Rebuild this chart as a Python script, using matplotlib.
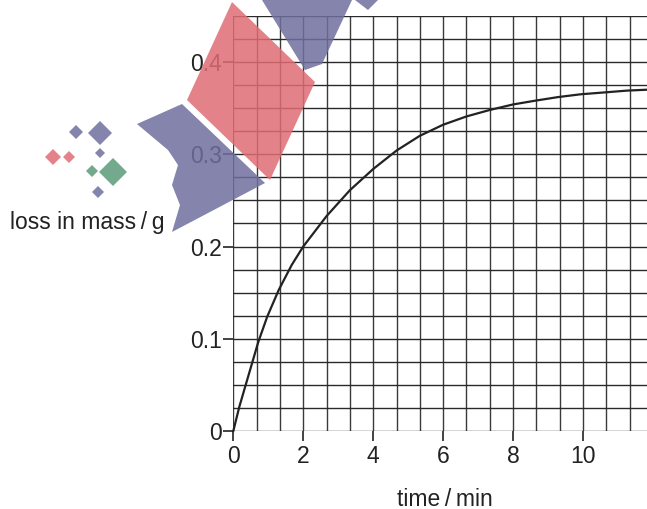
import numpy as np
import matplotlib
matplotlib.use("Agg")
import matplotlib.pyplot as plt
from matplotlib.patches import Polygon
from matplotlib.transforms import Affine2D

plt.rcParams['font.family'] = ['Liberation Sans', 'DejaVu Sans']

# values
time_min = [0, 0.17, 0.37, 0.54, 0.71, 0.97, 1.30, 1.67, 2.0, 2.667, 3.333, 4.0, 4.667,
            5.333, 6.0, 6.667, 7.333, 8.0, 8.62, 9.29, 9.93, 10.6, 11.26, 11.85]
loss_g = [0, 0.026, 0.052, 0.074, 0.096, 0.124, 0.153, 0.180, 0.200, 0.233, 0.261, 0.284,
          0.304, 0.320, 0.332, 0.341, 0.348, 0.354, 0.358, 0.362, 0.365, 0.367, 0.369, 0.370]
x_ticks = [0, 2, 4, 6, 8, 10]
y_ticks = [0, 0.1, 0.2, 0.3, 0.4]
y_tick_labels = ["0", "0.1", "0.2", "0.3", "0.4"]

W, H = 647, 509
fig = plt.figure(figsize=(W / 100, H / 100), dpi=100)
ax = fig.add_axes([0.3606, 0.1532, 0.6394, 0.8156])
ax.set_xlim(0, 11.83)
ax.set_ylim(0, 0.45)

# graph paper grid
for gx in np.arange(0, 12, 2 / 3):
    ax.axvline(gx, color='#3a3a3a', lw=1.0, zorder=1)
for gy in np.arange(0, 0.451, 0.025):
    ax.axhline(gy, color='#2a2a2a', lw=1.0, zorder=1)
for s in ax.spines.values():
    s.set_visible(False)

ax.plot(time_min, loss_g, color='#222222', lw=1.6, zorder=3, clip_on=False,
        solid_joinstyle='round')

ax.set_xticks(x_ticks)
ax.set_yticks(y_ticks)
ax.set_yticklabels(y_tick_labels)
ax.tick_params(axis='both', direction='out', length=7, width=1.2, color='#222222',
               labelsize=16.5, labelcolor='#222222')
ax.tick_params(axis='x', pad=3)
ax.tick_params(axis='y', pad=1)

fig.text(10 / W, 1 - 222 / H, "loss in mass\u2009/\u2009g", fontsize=16.5, color='#222222',
         ha='left', va='center')
fig.text(445 / W, 1 - 499 / H, "time\u2009/\u2009min", fontsize=16.5, color='#222222',
         ha='center', va='center')

# watermark logo (rough), in pixel coords with origin top-left
px = Affine2D().scale(1 / W, -1 / H).translate(0, 1) + fig.transFigure
red = '#e06c75'
blue = '#6e6e9e'
green = '#5a9a78'
shapes = [
    ([(232, 2), (315, 82), (270, 180), (187, 100)], red),
    ([(137, 124), (182, 104), (265, 183), (172, 232), (180, 205), (172, 185),
      (178, 165), (168, 150)], blue),
    ([(262, 0), (352, 0), (322, 64), (305, 70)], blue),
    ([(355, 0), (378, 0), (368, 10)], blue),
]
for pts, c in shapes:
    fig.patches.append(Polygon(pts, closed=True, transform=px, facecolor=c,
                               edgecolor='none', alpha=0.85, zorder=5))
diamonds = [(100, 133, 12, blue), (76, 132, 7, blue), (100, 153, 5, blue),
            (53, 157, 8, red), (69, 157, 6, red), (92, 171, 6, green),
            (113, 172, 14, green), (98, 192, 6, blue)]
for cx, cy, r, c in diamonds:
    pts = [(cx, cy - r), (cx + r, cy), (cx, cy + r), (cx - r, cy)]
    fig.patches.append(Polygon(pts, closed=True, transform=px, facecolor=c,
                               edgecolor='none', alpha=0.85, zorder=5))

fig.savefig("out.png", dpi=100)
